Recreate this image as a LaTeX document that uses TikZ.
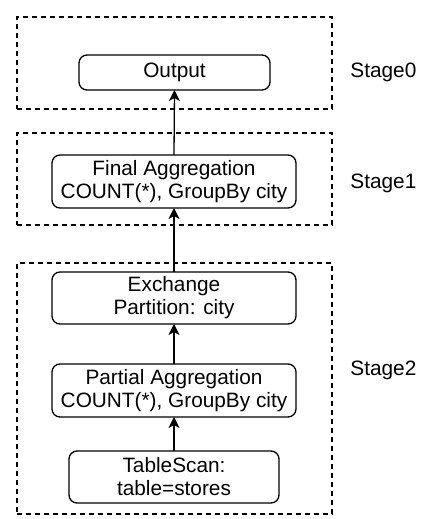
\documentclass[tikz,border=0pt]{standalone}
\usepackage{fontspec}
\setmainfont{Liberation Sans}
\usetikzlibrary{arrows.meta}
\begin{document}
\begin{tikzpicture}[x=0.5pt,y=-0.5pt,
  every node/.style={font=\fontsize{10.4}{11.5}\selectfont},
  opbox/.style={draw, rounded corners=4pt, line width=0.65pt, align=center, inner sep=0pt, outer sep=0pt},
  stagebox/.style={draw, dashed, dash pattern=on 2.5pt off 2pt, line width=0.6pt, inner sep=0pt, outer sep=0pt, minimum width=157.5pt},
  stagelabel/.style={anchor=west, inner sep=0pt},
  flow/.style={-{Stealth[length=5.5pt,width=5.5pt,inset=1.5pt]}, line width=0.65pt}]
\path[fill=white] (0,0) rectangle (427,519);
\useasboundingbox (0,0) rectangle (427,519);
% stage boxes
\node[stagebox, minimum height=46pt] (s0) at (174.5,63) {};
\node[stagebox, minimum height=46pt] (s1) at (174.5,179) {};
\node[stagebox, minimum height=125.5pt] (s2) at (174.5,388.5) {};
% stage labels
\node[stagelabel] (l0) at (350,72) {Stage0};
\node[stagelabel] (l1) at (350,183) {Stage1};
\node[stagelabel] (l2) at (350,370) {Stage2};
% operators
\node[opbox, minimum width=95.5pt, minimum height=17.5pt] (out) at (174.5,72.5) {Output};
\node[opbox, minimum width=122pt, minimum height=26.5pt] (fin) at (174,181.5) {Final Aggregation\\COUNT(*), GroupBy city};
\node[opbox, minimum width=122pt, minimum height=26pt] (exc) at (174,298) {Exchange\\Partition: city};
\node[opbox, minimum width=122pt, minimum height=26.5pt] (par) at (174,390.5) {Partial Aggregation\\COUNT(*), GroupBy city};
\node[opbox, minimum width=105pt, minimum height=26pt] (scan) at (174,477) {TableScan:\\table=stores};
% connectors
\draw[flow] (fin.north) -- (out.south);
\draw[flow] (exc.north) -- (fin.south);
\draw[flow] (par.north) -- (exc.south);
\draw[flow] (scan.north) -- (par.south);
\end{tikzpicture}
\end{document}
